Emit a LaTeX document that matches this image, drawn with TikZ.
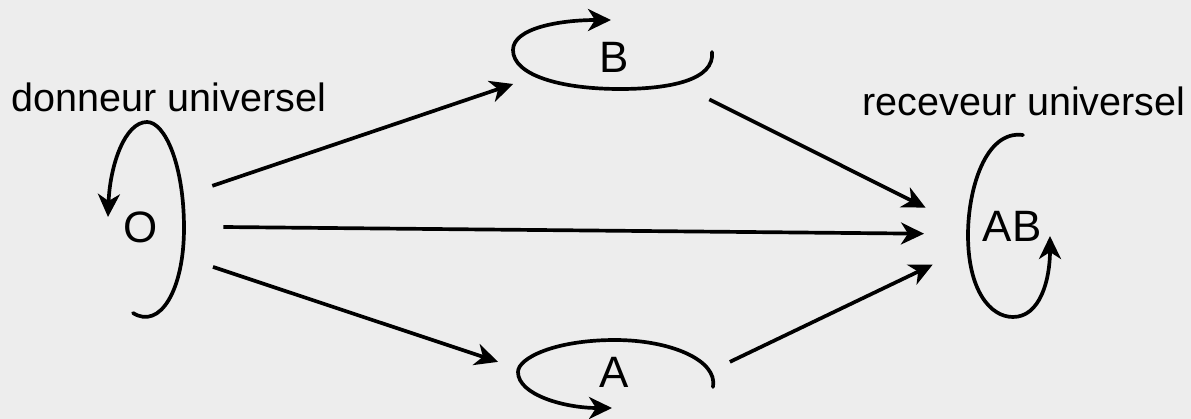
\documentclass[tikz,border=0pt]{standalone}
\usepackage{fontspec}
\setmainfont{Liberation Sans}
\usetikzlibrary{arrows.meta}

\begin{document}
\begin{tikzpicture}[x=0.02cm, y=-0.02cm,
    bloodtype/.style={circle, minimum size=#1, inner sep=0pt,
      font=\fontsize{25}{30}\selectfont},
    remark/.style={inner sep=0pt, font=\fontsize{22.5}{27}\selectfont},
    flow/.style={-{Stealth[length=0.46cm, width=0.44cm, inset=0.14cm]}, line width=2.1pt},
    selfloop/.style={flow, line cap=round}]
  \fill[white!93!black] (0,0) rectangle (1191,419);
  \useasboundingbox (0,0) rectangle (1191,419);
  \node[bloodtype=3.28cm] (O) at (141, 227) {O};
  \node[bloodtype=4.16cm] (B) at (614, 57) {B};
  \node[bloodtype=4.64cm] (A) at (614, 372) {A};
  \node[bloodtype=3.52cm] (AB) at (1012, 226) {AB};
  \node[remark] (donor) at (169, 97) {donneur universel};
  \node[remark] (receiver) at (1024, 101) {receveur universel};
  % transfusions
  \draw[flow] (O.30) -- (B.195);
  \draw[flow] (O.0) -- (AB.185);
  \draw[flow] (O.-29) -- (A.175);
  \draw[flow] (B.-24) -- (AB.168);
  \draw[flow] (A.5) -- (AB.206);
  % same group
  \draw[selfloop] (133,313) .. controls (160,330) and (184,290) .. (184,228)
    .. controls (184,165) and (165,122) .. (147,122)
    .. controls (125,122) and (110,165) .. (108,217);
  \draw[selfloop] (712,52) .. controls (715,80) and (670,89) .. (620,89)
    .. controls (560,89) and (513,75) .. (513,50)
    .. controls (513,28) and (560,20) .. (611,20);
  \draw[selfloop] (713,387) .. controls (718,360) and (670,340) .. (615,340)
    .. controls (555,340) and (518,358) .. (518,372)
    .. controls (518,395) and (565,408) .. (612,408);
  \draw[selfloop] (1023,135) .. controls (985,130) and (968,190) .. (968,235)
    .. controls (968,290) and (990,317) .. (1013,317)
    .. controls (1040,317) and (1050,280) .. (1050,236);
\end{tikzpicture}
\end{document}
